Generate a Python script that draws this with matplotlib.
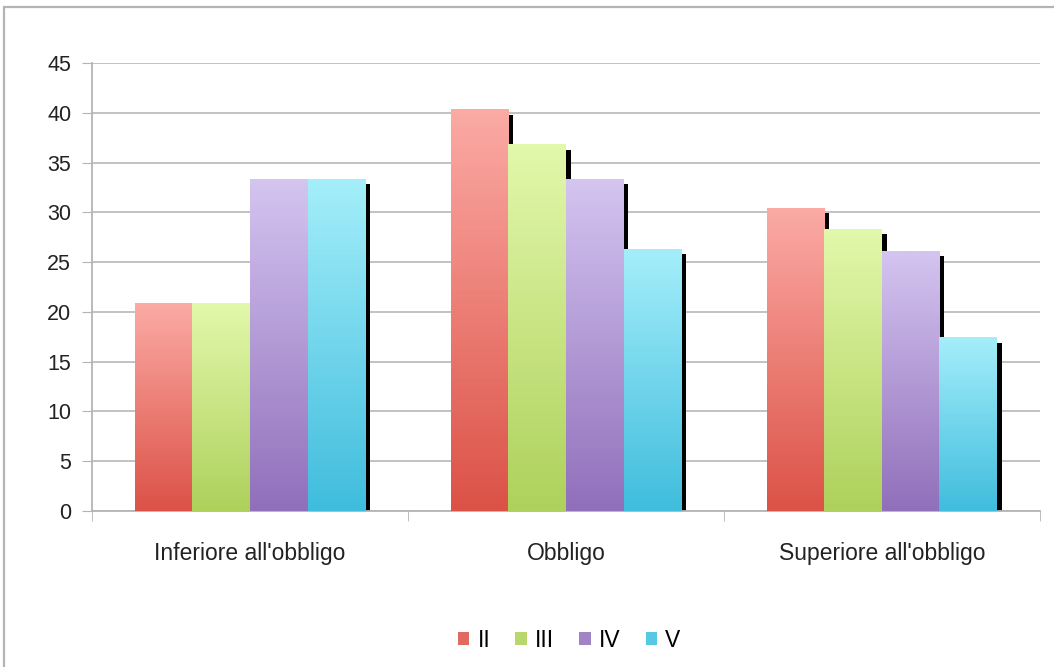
import numpy as np
import matplotlib
matplotlib.use("Agg")
import matplotlib.pyplot as plt
from matplotlib.colors import LinearSegmentedColormap
from matplotlib.patches import Rectangle, Patch

plt.rcParams['font.family'] = ['Liberation Sans', 'DejaVu Sans']

categories = ["Inferiore all'obbligo", "Obbligo", "Superiore all'obbligo"]
series = ["II", "III", "IV", "V"]
values_II = [20.8, 40.3, 30.4]
values_III = [20.8, 36.8, 28.3]
values_IV = [33.3, 33.3, 26.1]
values_V = [33.3, 26.3, 17.4]

# bottom colour, top colour for each series
shades = [("#dc5247", "#fbaaa4"),
          ("#aed15c", "#e2f8ab"),
          ("#9170bb", "#d4c4f0"),
          ("#40bddd", "#a4eefa")]
legend_colors = ["#e06a62", "#b8d86e", "#a184c6", "#55c8e4"]

fig = plt.figure(figsize=(10.54, 6.67), dpi=100)
ax = fig.add_axes([0.0873, 0.2339, 0.8994, 0.6716])

# outer frame of the chart box
fig.patches.append(Rectangle((4 / 1054, -0.1), 1.2, 1 - 7 / 667 + 0.1,
                             transform=fig.transFigure, fill=False,
                             edgecolor="#b4b4b4", linewidth=1.6))

data = [values_II, values_III, values_IV, values_V]
bw = 0.182
x = np.arange(len(categories))
start = -2 * bw
shadow_dx = 0.015
shadow_dy = 0.5

for i, vals in enumerate(data):
    cmap = LinearSegmentedColormap.from_list("g%d" % i, shades[i])
    for j, v in enumerate(vals):
        x0 = x[j] + start + i * bw
        # drop shadow
        ax.add_patch(Rectangle((x0 + shadow_dx, 0), bw, v - shadow_dy,
                               facecolor="black", edgecolor="none", zorder=2))
        grad = np.linspace(0, 1, 100).reshape(-1, 1)
        ax.imshow(grad, cmap=cmap, origin="lower", aspect="auto",
                  extent=(x0, x0 + bw, 0, v), zorder=3 + i * 0.01 + j * 0.1)

ax.set_xlim(-0.5, 2.5)
ax.set_ylim(0, 45)
ax.set_yticks(range(0, 46, 5))
ax.set_xticks(x)
ax.set_xticklabels(categories, fontsize=16.5, color="#222222")
ax.set_xticks([-0.5, 0.5, 1.5, 2.5], minor=True)
ax.tick_params(axis="x", which="major", length=0, pad=22)
ax.tick_params(axis="x", which="minor", length=7, color="#b4b4b4", direction="out")
ax.tick_params(axis="y", length=7, color="#b4b4b4", labelsize=15.5,
               labelcolor="#222222", pad=8)
ax.grid(axis="y", color="#bdbdbd", linewidth=1.3, zorder=1)
ax.set_axisbelow(True)
for s in ["top", "right"]:
    ax.spines[s].set_visible(False)
for s in ["left", "bottom"]:
    ax.spines[s].set_color("#b4b4b4")
    ax.spines[s].set_linewidth(1.3)

handles = [Patch(facecolor=c, edgecolor="none") for c in legend_colors]
fig.legend(handles, series, loc="center", bbox_to_anchor=(0.54, 0.04),
           ncol=4, frameon=False, fontsize=16.5, handlelength=0.5,
           handleheight=0.5, handletextpad=0.35, columnspacing=1.1)

fig.savefig("out.png", dpi=100)
